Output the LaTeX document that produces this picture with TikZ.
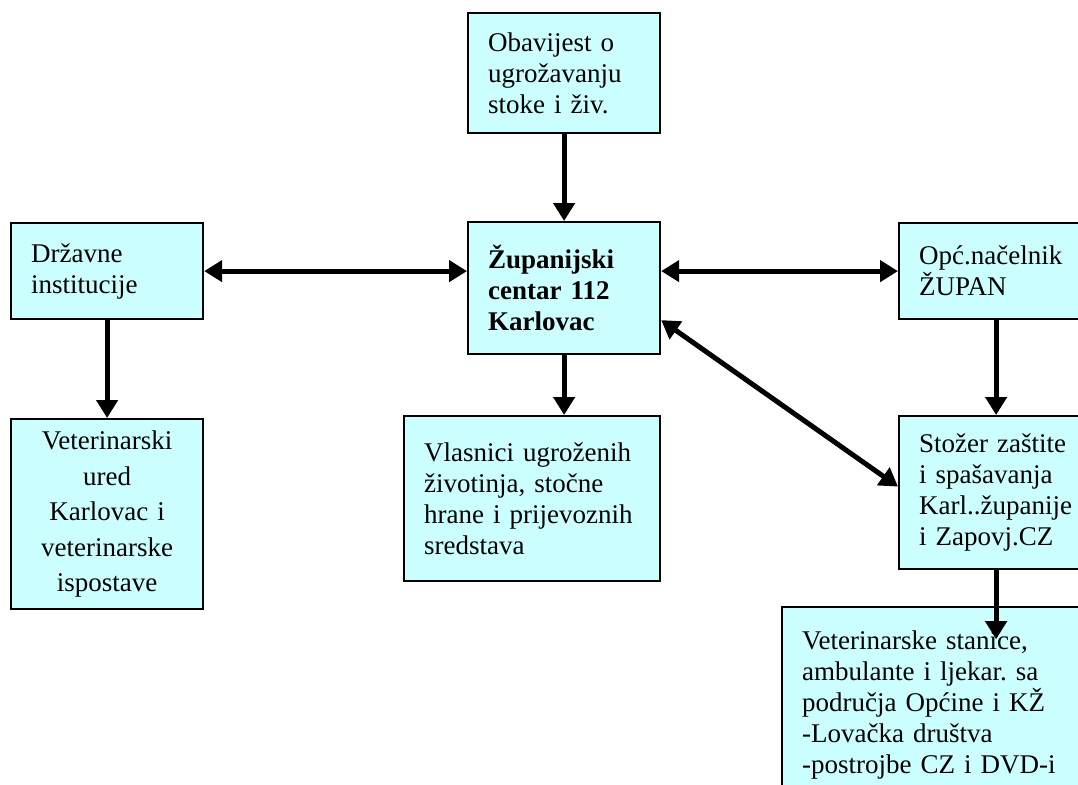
\documentclass[tikz,border=0pt]{standalone}
\usepackage{fontspec}
\setmainfont{Liberation Serif}
\frenchspacing
\usetikzlibrary{arrows.meta}
\definecolor{boxcyan}{HTML}{CCFFFF}
\tikzset{
	box/.style={draw=black, line width=2.2pt, fill=boxcyan, anchor=north west,
		inner xsep=20pt, inner ysep=0pt, align=left,
		font=\fontsize{27}{31}\selectfont},
	arr/.style={line width=5pt, -{Triangle[length=18pt,width=21pt]}},
	darr/.style={line width=5pt, {Triangle[length=18pt,width=21pt]}-{Triangle[length=18pt,width=21pt]}}
}
\begin{document}
\begin{tikzpicture}[x=1pt,y=-1pt]
			\useasboundingbox (0,0) rectangle (1078,784);
			\clip (0,0) rectangle (1078,784);
			% boxes
			\node[box, text width=152pt, minimum height=120pt] (obav) at (467,12)
				{Obavijest o\\ugrožavanju\\stoke i živ.};
			\node[box, text width=152pt, minimum height=132pt, font=\fontsize{27}{31}\selectfont\bfseries] (cent) at (467,221)
				{Županijski\\centar 112\\Karlovac};
			\node[box, text width=152pt, minimum height=96pt] (drz) at (10,222)
				{Državne\\institucije};
			\node[box, text width=154pt, minimum height=96pt] (opc) at (898,222)
				{Opć.načelnik\\ŽUPAN};
			\node[box, text width=152pt, minimum height=190pt, align=center, font=\fontsize{27}{35.5}\selectfont] (vet) at (10,418)
				{Veterinarski\\ured\\Karlovac i\\veterinarske\\ispostave};
			\node[box, text width=216pt, minimum height=165pt] (vlas) at (403,415)
				{Vlasnici ugroženih\\životinja, stočne\\hrane i prijevoznih\\sredstava};
			\node[box, text width=154pt, minimum height=153pt] (stoz) at (898,415)
				{Stožer zaštite\\i spašavanja\\Karl..županije\\i Zapovj.CZ};
			\node[box, text width=280pt, minimum height=196pt] (vetst) at (781,606)
				{Veterinarske stanice,\\ambulante i ljekar. sa\\područja Općine i KŽ\\-Lovačka društva\\-postrojbe CZ i DVD-i};
			\coordinate (vtip) at ([yshift=-69pt]stoz.south);
			% connectors
			\draw [arr] (obav.south)--(cent.north);
			\draw [darr] (drz.east)--(drz.east -| cent.west);
			\draw [darr] (cent.east |- opc.west)--(opc.west);
			\draw [arr] (drz.south)--(vet.north);
			\draw [arr] (cent.south)--(cent.south |- vlas.north);
			\draw [arr] (opc.south)--(stoz.north);
			\draw [darr] ([yshift=-32pt]cent.east)--([yshift=6pt]stoz.west);
			\draw [arr] (stoz.south)--(vtip);
			\end{tikzpicture}
\end{document}
